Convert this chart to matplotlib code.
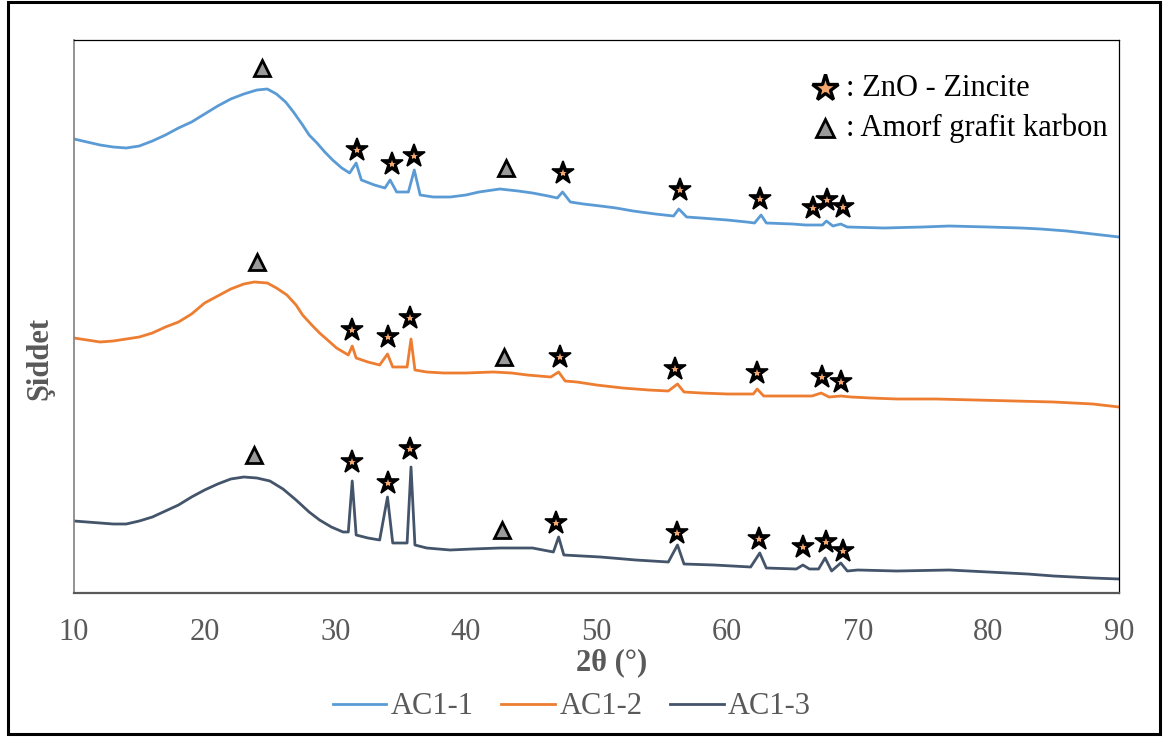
import numpy as np
import matplotlib
matplotlib.use("Agg")
from matplotlib import pyplot as plt
from matplotlib.patches import Rectangle

plt.rcParams['font.family'] = ['Liberation Serif', 'DejaVu Serif']

# 2theta (deg) / intensity (a.u.)
tt1 = [10.0, 11.0, 12.0, 13.0, 14.0, 15.0, 16.0, 17.0, 18.0, 19.0, 20.0, 21.0, 22.0, 23.0, 24.0, 24.8,
       25.5, 26.2, 26.8, 27.5, 28.0, 28.6, 29.2, 29.8, 30.5, 31.1, 31.6, 32.0, 33.0, 33.8, 34.2, 34.7,
       35.6, 36.05, 36.5, 37.5, 38.8, 40.0, 41.0, 42.6, 44.0, 45.1, 46.3, 47.0, 47.4, 48.0, 49.0, 50.3,
       51.5, 52.8, 54.5, 55.9, 56.3, 56.9, 58.0, 59.0, 60.0, 61.5, 62.1, 62.6, 63.0, 65.0, 66.0, 67.3,
       67.6, 68.1, 68.7, 69.2, 72.0, 75.0, 77.0, 80.0, 82.5, 84.0, 86.0, 88.0, 90.0]
ac11 = [454, 451, 448, 446, 445, 447, 452, 458, 465, 471, 479, 487, 494, 499, 503, 504,
        499, 491, 481, 468, 458, 450, 441, 433, 425, 420, 430, 413, 408, 405, 413, 401,
        401, 423, 398, 396, 396, 398, 401, 404, 402, 400, 397, 395, 401, 391, 389, 387,
        385, 382, 379, 377, 384, 376, 375, 374, 373, 371, 370, 378, 370, 369, 368, 368,
        372, 367, 369, 366, 365, 366, 367, 366, 365, 364, 362, 359, 356]

tt2 = [10.0, 11.0, 12.0, 13.0, 14.0, 15.0, 16.0, 17.0, 18.0, 19.0, 20.0, 21.0, 22.0, 23.0, 23.8, 24.8,
       25.5, 26.3, 27.0, 27.5, 28.2, 28.8, 29.5, 30.1, 31.0, 31.3, 31.6, 32.5, 33.4, 34.0, 34.4, 35.5,
       35.8, 36.1, 37.0, 38.3, 40.0, 42.1, 43.5, 44.7, 46.5, 47.1, 47.6, 48.5, 50.0, 52.0, 54.0, 55.5,
       56.2, 56.7, 58.0, 60.0, 62.0, 62.3, 62.8, 65.0, 66.5, 67.2, 67.8, 68.7, 69.5, 71.0, 73.0, 76.0,
       79.0, 82.0, 85.0, 88.0, 90.0]
ac12 = [255, 253, 251, 252, 254, 256, 260, 266, 271, 279, 290, 297, 304, 309, 311, 310,
        305, 298, 288, 278, 268, 260, 252, 245, 238, 247, 235, 231, 228, 239, 226, 226,
        254, 223, 221, 220, 220, 221, 220, 218, 216, 221, 212, 211, 208, 205, 203, 202,
        209, 201, 200, 199, 199, 204, 197, 197, 197, 200, 196, 197, 196, 195, 194, 194,
        193, 192, 191, 189, 186]

tt3 = [10.0, 11.0, 12.0, 13.0, 14.0, 15.0, 16.0, 17.0, 18.0, 19.0, 20.0, 21.0, 22.0, 23.0, 24.0, 25.0,
       26.0, 27.0, 28.0, 28.8, 29.7, 30.6, 31.0, 31.3, 31.6, 32.5, 33.4, 34.0, 34.4, 35.5, 35.8, 36.1,
       37.0, 38.8, 40.5, 42.6, 45.1, 46.7, 47.1, 47.5, 50.3, 53.0, 55.5, 56.2, 56.7, 59.0, 61.8, 62.5,
       63.0, 65.3, 65.8, 66.3, 67.0, 67.5, 68.0, 68.7, 69.2, 70.0, 73.0, 77.0, 80.0, 83.0, 85.0, 88.0,
       90.0]
ac13 = [72, 71, 70, 69, 69, 72, 76, 82, 88, 96, 103, 109, 114, 116, 115, 112,
        104, 93, 81, 73, 66, 61, 61, 112, 58, 55, 53, 96, 50, 50, 126, 48,
        45, 43, 44, 45, 45, 41, 56, 38, 36, 33, 31, 48, 29, 28, 26, 40,
        25, 24, 28, 24, 24, 35, 22, 30, 22, 23, 22, 23, 21, 19, 17, 15,
        14]

# phase markers (2theta, height)
zno_x1 = [31.67, 34.35, 36.0, 47.4, 56.4, 62.5, 66.6, 67.65, 68.9]
zno_y1 = [443, 429, 437, 420, 403, 394, 385, 393, 386]
zno_x2 = [31.3, 34.0, 35.7, 47.2, 56.0, 62.3, 67.3, 68.7]
zno_y2 = [263, 256, 275, 236, 224, 220, 216, 211]
zno_x3 = [31.3, 34.0, 35.7, 46.9, 56.2, 62.45, 65.8, 67.6, 68.9]
zno_y3 = [131, 110, 144, 70, 60, 54, 46, 51, 42]
c_x = [24.4, 43.1, 24.0, 42.9, 23.8, 42.8]
c_y = [525, 425, 331, 236, 138, 63]

series = ['AC1-1', 'AC1-2', 'AC1-3']
colors = ['#5B9BD5', '#ED7D31', '#44546A']
gray = '#595959'

fig = plt.figure(figsize=(11.64, 7.38), dpi=100)
W, H = 1164, 738
ax = fig.add_axes([74 / W, 1 - 593 / H, (1119 - 74) / W, (593 - 40) / H])

lines = []
for tt, yy, lab, col in zip([tt1, tt2, tt3], [ac11, ac12, ac13], series, colors):
    l, = ax.plot(tt, yy, color=col, lw=2.0, label=lab)
    lines.append(l)

star_col = '#F4A76E'
for zx, zy in [(zno_x1, zno_y1), (zno_x2, zno_y2), (zno_x3, zno_y3)]:
    ax.plot(zx, zy, ls='none', marker='*', ms=17, color='black', mec='black', mew=1.2, zorder=4)
    ax.plot(zx, zy, ls='none', marker='*', ms=6, color=star_col, mew=0, zorder=5)
ax.plot(c_x, c_y, ls='none', marker='^', ms=12, mfc='#9A9A9A', mec='black', mew=2, zorder=4)

# phase key
ax.plot([67.5], [505], ls='none', marker='*', ms=20, mfc=star_col, mec='black', mew=2.4, zorder=5)
ax.plot([67.5], [465], ls='none', marker='^', ms=13, mfc='#9A9A9A', mec='black', mew=2, zorder=5)
ax.text(69.1, 505, ': ZnO - Zincite', fontsize=22, va='center', ha='left', color='black')
ax.text(69.1, 465, ': Amorf grafit karbon', fontsize=22, va='center', ha='left', color='black')

ax.set_xlim(10, 90)
ax.set_ylim(0, 553)
ax.set_xticks(np.arange(10, 91, 10))
ax.set_yticks([])
ax.tick_params(axis='x', length=0, pad=18, labelsize=22, labelcolor=gray)
ax.spines['top'].set_color('black')
ax.spines['right'].set_color('black')
ax.spines['top'].set_linewidth(0.9)
ax.spines['right'].set_linewidth(0.9)
ax.spines['left'].set_color('#808080')
ax.spines['left'].set_linewidth(1.2)
ax.spines['bottom'].set_color(gray)
ax.spines['bottom'].set_linewidth(1.6)

fig.text(612 / W, 1 - 663 / H, '2θ (°)', fontsize=22, fontweight='bold', color=gray,
         ha='center', va='center')
fig.text(40 / W, 1 - 358 / H, 'Şiddet', fontsize=22, fontweight='bold', color=gray,
         ha='center', va='center', rotation=90)

fig.legend(handles=lines, loc='center', bbox_to_anchor=(572 / W, 1 - 707 / H), ncol=3,
           frameon=False, fontsize=22, handlelength=1.75, handletextpad=0.15,
           columnspacing=0.9, labelcolor=gray)

fig.patches.append(Rectangle((8 / W, 4 / H), 1152 / W, 732 / H, transform=fig.transFigure,
                             fill=False, edgecolor='black', lw=2.2))

fig.savefig('out.png', dpi=100)
